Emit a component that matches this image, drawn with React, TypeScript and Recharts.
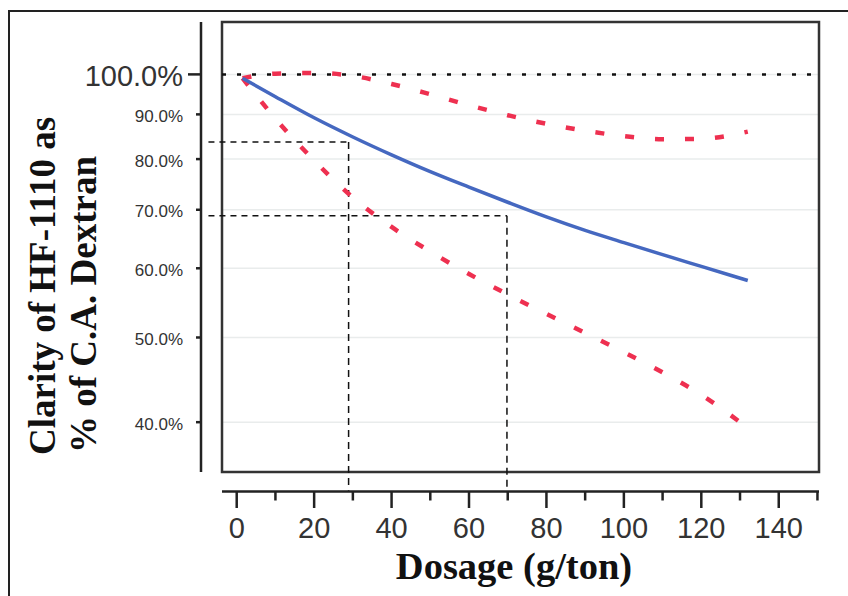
import { LineChart, Line, XAxis, YAxis, CartesianGrid, ReferenceLine, ReferenceArea } from "recharts";

const DOSAGE = [1.5, 10, 20, 30, 40, 50, 60, 70, 80, 90, 100, 110, 120, 132];
const FIT = [99.0, 94.3, 89.2, 84.8, 80.9, 77.4, 74.3, 71.4, 68.7, 66.3, 64.2, 62.2, 60.3, 58.1];
const UPPER = [99.0, 100.2, 100.4, 99.6, 97.5, 94.9, 92.2, 89.8, 87.8, 86.2, 85.0, 84.3, 84.4, 86.0];
const LOWER = [99.0, 89.0, 79.7, 72.3, 66.9, 62.7, 59.1, 56.0, 53.2, 50.6, 48.1, 45.6, 43.0, 39.4];

const X_TICKS = [0, 10, 20, 30, 40, 50, 60, 70, 80, 90, 100, 110, 120, 130, 140, 150];
const Y_TICKS = [40, 50, 60, 70, 80, 90, 100];
const X_DOMAIN: [number, number] = [-3.8, 150.4];
const Y_DOMAIN: [number, number] = [35.08, 114.8];

// reading guides: [dosage, clarity]
const GUIDES = [
  [28.9, 83.7],
  [69.8, 68.9],
];
const GUIDE_LEFT = -7.3;
const GUIDE_BOTTOM = 33.4;

const data = DOSAGE.map((d, i) => ({ dosage: d, fit: FIT[i], upper: UPPER[i], lower: LOWER[i] }));

const AXIS_GAP = 21;
const INK = "#222";
const LABEL = "#333";
const SANS = '"Liberation Sans", Arial, sans-serif';
const SERIF = '"Liberation Serif", "Times New Roman", serif';

function YTick(props: any) {
  const { x, y, payload } = props;
  const big = payload.value === 100;
  const ax = x - AXIS_GAP;
  return (
    <g>
      <line x1={ax - (big ? 13 : 5)} x2={ax} y1={y} y2={y} stroke={INK} strokeWidth={2.5} />
      <text
        x={ax - 18}
        y={y}
        dy={big ? 12 : 7.5}
        textAnchor="end"
        fontFamily={SANS}
        fontSize={big ? 29 : 17}
        fill={LABEL}
      >
        {payload.value.toFixed(1)}%
      </text>
    </g>
  );
}

function XTick(props: any) {
  const { x, y, payload } = props;
  const major = payload.value % 20 === 0;
  const ay = y + 19.5;
  return (
    <g>
      <line x1={x} x2={x} y1={ay} y2={ay + (major ? 16.5 : 9)} stroke={INK} strokeWidth={2.5} />
      {major && payload.value <= 140 && (
        <text x={x} y={y + 66} textAnchor="middle" fontFamily={SANS} fontSize={29} fill={LABEL}>
          {payload.value}
        </text>
      )}
    </g>
  );
}

export default function App() {
  return (
    <div style={{ position: "relative", width: 848, height: 596, overflow: "hidden", background: "#fff" }}>
      <style>{`body{margin:0}`}</style>
      <div
        style={{
          position: "absolute",
          left: 8,
          top: 10,
          width: 900,
          height: 700,
          borderLeft: `2px solid ${INK}`,
          borderTop: `2px solid ${INK}`,
        }}
      />
      <div style={{ position: "absolute", left: 0, top: 0 }}>
        <LineChart width={848} height={596} data={data} margin={{ top: 22, right: 29, bottom: 123, left: 221 }}>
          <CartesianGrid vertical={false} stroke="#e9ecec" strokeWidth={1.5} />
          <XAxis
            dataKey="dosage"
            type="number"
            domain={X_DOMAIN}
            allowDataOverflow
            ticks={X_TICKS}
            interval={0}
            height={1}
            tickSize={0}
            tickMargin={0}
            tickLine={false}
            axisLine={{ stroke: INK, strokeWidth: 2.5, transform: "translate(0,19.5)" }}
            tick={<XTick />}
          />
          <YAxis
            type="number"
            scale="log"
            domain={Y_DOMAIN}
            allowDataOverflow
            ticks={Y_TICKS}
            interval={0}
            width={1}
            tickSize={0}
            tickMargin={0}
            tickLine={false}
            axisLine={{ stroke: INK, strokeWidth: 2.5, transform: `translate(-${AXIS_GAP},0)` }}
            tick={<YTick />}
          />
          <ReferenceLine y={100} stroke="#111" strokeWidth={2.5} strokeDasharray="4 11" />
          {GUIDES.map(([gx, gy], i) => (
            <ReferenceLine
              key={`h${i}`}
              segment={[
                { x: GUIDE_LEFT, y: gy },
                { x: gx, y: gy },
              ]}
              ifOverflow="visible"
              stroke="#111"
              strokeWidth={1.5}
              strokeDasharray="6 5"
            />
          ))}
          {GUIDES.map(([gx, gy], i) => (
            <ReferenceLine
              key={`v${i}`}
              segment={[
                { x: gx, y: gy },
                { x: gx, y: GUIDE_BOTTOM },
              ]}
              ifOverflow="visible"
              stroke="#111"
              strokeWidth={1.5}
              strokeDasharray="7 5"
            />
          ))}
          <Line
            dataKey="upper"
            type="monotone"
            stroke="#ee3050"
            strokeWidth={4.5}
            strokeDasharray="9 21"
            dot={false}
            activeDot={false}
            isAnimationActive={false}
          />
          <Line
            dataKey="lower"
            type="monotone"
            stroke="#ee3050"
            strokeWidth={4.5}
            strokeDasharray="9 21"
            dot={false}
            activeDot={false}
            isAnimationActive={false}
          />
          <Line
            dataKey="fit"
            type="monotone"
            stroke="#4568c0"
            strokeWidth={3.5}
            dot={false}
            activeDot={false}
            isAnimationActive={false}
          />
          <ReferenceArea
            x1={X_DOMAIN[0]}
            x2={X_DOMAIN[1]}
            y1={Y_DOMAIN[0]}
            y2={Y_DOMAIN[1]}
            fill="none"
            stroke="#333"
            strokeWidth={2.5}
          />
        </LineChart>
      </div>
      <svg width={848} height={596} style={{ position: "absolute", left: 0, top: 0, pointerEvents: "none" }}>
        <g fontFamily={SERIF} fontWeight="bold" fill="#111">
          <text x={55} y={455} fontSize={37} transform="rotate(-90 55 455)">
            Clarity of HF-1110 as
          </text>
          <text x={96} y={453} fontSize={37} transform="rotate(-90 96 453)">
            % of C.A. Dextran
          </text>
          <text x={514} y={579} fontSize={38.5} textAnchor="middle">
            Dosage (g/ton)
          </text>
        </g>
      </svg>
    </div>
  );
}
